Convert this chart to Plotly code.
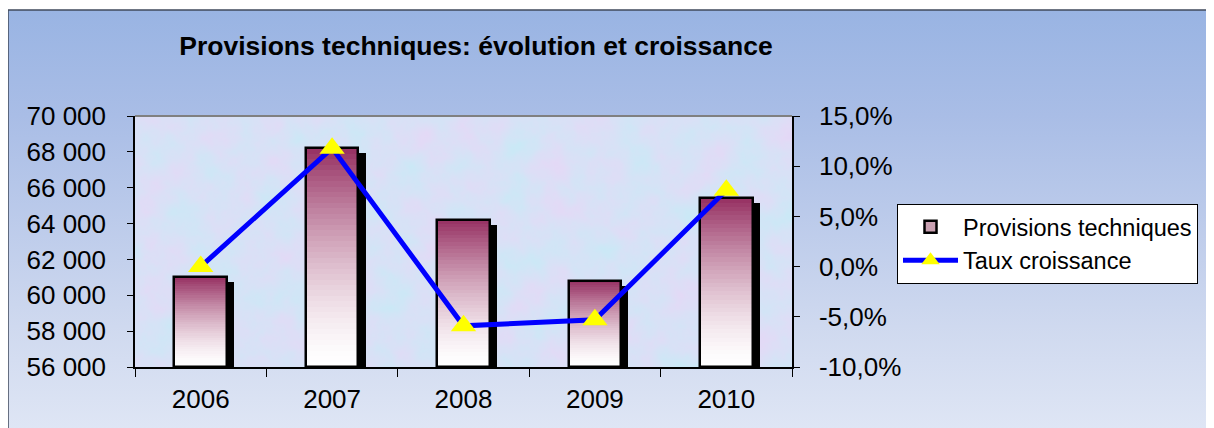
import base64
import plotly.graph_objects as go

# ---------------- data ----------------
categories = ["2006", "2007", "2008", "2009", "2010"]
provisions = [61000, 68200, 64200, 60800, 65400]
croissance = [0.000, 0.118, -0.059, -0.053, 0.076]
left_ticks = [56000, 58000, 60000, 62000, 64000, 66000, 68000, 70000]
right_tickvals = [-0.10, -0.05, 0.0, 0.05, 0.10, 0.15]
right_ticktext = ["-10,0%", "-5,0%", "0,0%", "5,0%", "10,0%", "15,0%"]
title_text = "Provisions techniques: évolution et croissance"
series_names = ["Provisions techniques", "Taux croissance"]

# ---------------- layout geometry ----------------
# the page body has an 8px margin, so figure pixel = screen pixel - 8
OX, OY = 8, 8
W, H = 1214 - OX, 428 - OY
PL, PR, PT, PB = 135 - OX, 792 - OX, 116 - OY, 367 - OY  # plot area in figure pixels
ML, MR, MT, MB = PL, W - PR, PT, H - PB
pw, ph = PR - PL, PB - PT
Y0, Y1 = 56000, 70000
FONT = "Liberation Sans, Arial, sans-serif"


def px_to_paper_x(x):
    return (x - OX - PL) / pw


def px_to_paper_y(y):
    return (PB - (y - OY)) / ph


def svg_uri(svg):
    return "data:image/svg+xml;base64," + base64.b64encode(svg.encode()).decode()


bg_svg = f"""<svg xmlns='http://www.w3.org/2000/svg' width='{W}' height='{H}' preserveAspectRatio='none'>
<defs><linearGradient id='g' x1='0' y1='0' x2='0' y2='1'>
<stop offset='0' stop-color='#99B4E3'/><stop offset='0.25' stop-color='#A9BDE6'/>
<stop offset='0.75' stop-color='#CFD9EF'/><stop offset='1' stop-color='#DFE6F5'/>
</linearGradient></defs><rect width='100%' height='100%' fill='url(#g)'/></svg>"""

tex_svg = f"""<svg xmlns='http://www.w3.org/2000/svg' width='{pw}' height='{ph}' preserveAspectRatio='none'>
<filter id='n' x='0' y='0' width='100%' height='100%'>
<feTurbulence type='fractalNoise' baseFrequency='0.025' numOctaves='5' seed='7'/>
<feColorMatrix type='matrix' values='0.55 0 0 0 0.53  -0.35 0 0 0 1.03  0 0 0 0 0.96  0 0 0 0 1'/>
</filter>
<rect width='100%' height='100%' fill='#C8D5F2'/>
<rect width='100%' height='100%' filter='url(#n)' opacity='0.5'/></svg>"""

fig = go.Figure()

BW = 0.40
# shadow bars
shadow_dy = 5 * (Y1 - Y0) / ph
fig.add_trace(go.Bar(
    x=categories, y=[v - shadow_dy - Y0 for v in provisions], base=Y0,
    width=BW, offset=-BW / 2 + 0.055,
    marker=dict(color="black", line=dict(width=0)),
    showlegend=False, hoverinfo="skip"))

# gradient bars built from stacked thin slices
N = 40
top = (150, 48, 98)
for k in range(N):
    t = (k + 0.5) / N
    f = t ** 1.5
    col = tuple(round(255 + (c - 255) * f) for c in top)
    fig.add_trace(go.Bar(
        x=categories,
        y=[(v - Y0) / N * 1.02 for v in provisions],
        base=[Y0 + (v - Y0) * k / N for v in provisions],
        width=BW, offset=-BW / 2,
        marker=dict(color="rgb(%d,%d,%d)" % col, line=dict(width=0)),
        showlegend=False, hoverinfo="skip"))

# outline
fig.add_trace(go.Bar(
    x=categories, y=[v - Y0 for v in provisions], base=Y0,
    width=BW, offset=-BW / 2,
    marker=dict(color="rgba(0,0,0,0)", line=dict(color="black", width=2.5)),
    showlegend=False, hovertemplate="%{x}: %{y}<extra></extra>"))

# legend proxy for bars
fig.add_trace(go.Bar(
    x=[categories[0]], y=[None], name=series_names[0],
    marker=dict(color="#C9A0B1", line=dict(color="black", width=2.5))))

# growth line
fig.add_trace(go.Scatter(
    x=categories, y=croissance, yaxis="y2", name=series_names[1],
    mode="lines+markers",
    line=dict(color="#0000FF", width=5),
    marker=dict(symbol="triangle-up", size=22, color="#FFFF00", line=dict(width=0))))

fig.update_layout(
    width=W, height=H,
    margin=dict(l=ML, r=MR, t=MT, b=MB, pad=0),
    paper_bgcolor="white", plot_bgcolor="rgba(0,0,0,0)",
    barmode="overlay", bargap=0,
    separators=", ",
    font=dict(family=FONT, size=26, color="black"),
    title=dict(text="<b>" + title_text + "</b>", x=(476 - OX) / W, xanchor="center",
               y=1 - (46 - OY) / H, yanchor="middle", xref="container", yref="container",
               font=dict(family=FONT, size=26.5, color="black")),
    xaxis=dict(type="category", showgrid=False, showline=True, linecolor="black",
               linewidth=1.5, ticks="outside", ticklen=8, tickwidth=1, tickcolor="black",
               tickson="boundaries", ticklabelstandoff=8,
               tickfont=dict(size=26)),
    yaxis=dict(range=[Y0, Y1], tickvals=left_ticks, tickformat=",d", showgrid=False,
               zeroline=False, showline=True, linecolor="black", linewidth=1.5,
               ticks="outside", ticklen=6, tickwidth=1, tickcolor="black",
               ticklabelstandoff=16, tickfont=dict(size=26)),
    yaxis2=dict(range=[-0.10, 0.15], overlaying="y", side="right",
                tickvals=right_tickvals, ticktext=right_ticktext, showgrid=False,
                zeroline=False, showline=True, linecolor="black", linewidth=1.5,
                ticks="outside", ticklen=6, tickwidth=1, tickcolor="black",
                ticklabelstandoff=14, tickfont=dict(size=26)),
    legend=dict(x=px_to_paper_x(897), y=px_to_paper_y(204), xanchor="left", yanchor="top",
                bgcolor="white", bordercolor="black", borderwidth=1,
                font=dict(family=FONT, size=23.5, color="black"),
                itemwidth=55, tracegroupgap=0),
    images=[
        dict(source=svg_uri(bg_svg), xref="paper", yref="paper",
             x=px_to_paper_x(8), y=px_to_paper_y(10),
             sizex=(W + OX + 4 - 8) / pw, sizey=(H + OY + 4 - 10) / ph,
             xanchor="left", yanchor="top", sizing="stretch", layer="below"),
        dict(source=svg_uri(tex_svg), xref="paper", yref="paper",
             x=0, y=1, sizex=1, sizey=1,
             xanchor="left", yanchor="top", sizing="stretch", layer="below"),
    ],
    shapes=[
        dict(type="rect", xref="paper", yref="paper",
             x0=px_to_paper_x(8), x1=px_to_paper_x(1214 + 4),
             y0=px_to_paper_y(428 + 4), y1=px_to_paper_y(10),
             line=dict(color="#404a5c", width=1.5), layer="above"),
        dict(type="line", xref="paper", yref="paper", x0=0, x1=1, y0=1, y1=1,
             line=dict(color="#808080", width=2), layer="above"),
    ],
)

fig.write_html("out.html")
